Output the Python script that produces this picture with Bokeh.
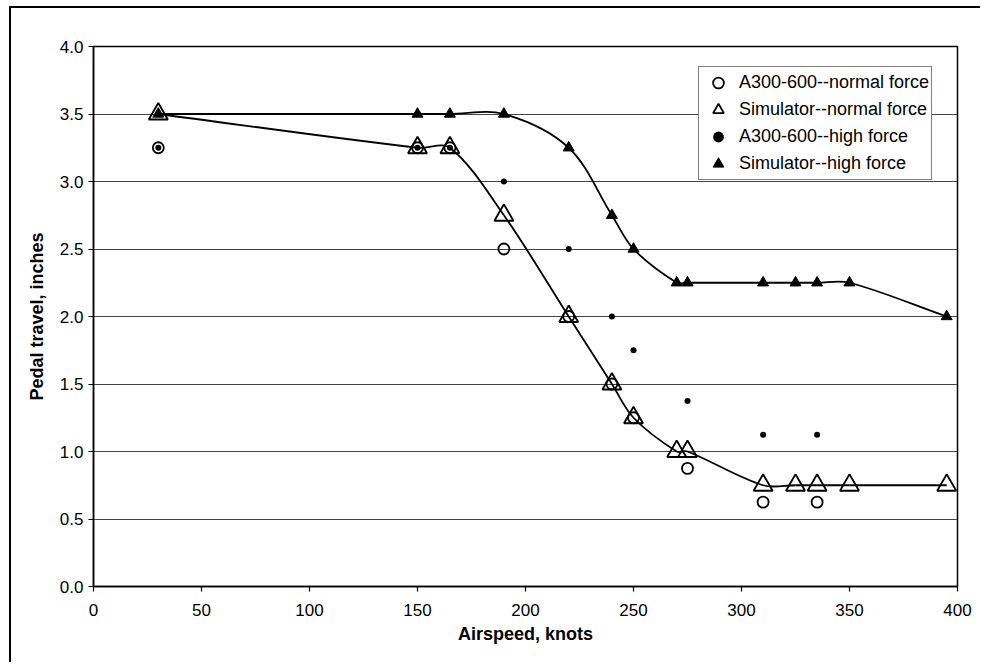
import numpy as np
from bokeh.plotting import figure
from bokeh.models import Range1d, FixedTicker, NumeralTickFormatter, Legend, LegendItem
from bokeh.embed import file_html
from bokeh.resources import INLINE

# ---- data ----
speed_a300 = [30, 150, 165, 190, 220, 240, 250, 275, 310, 335]
a300_normal = [3.25, 3.25, 3.25, 2.5, 2.0, 1.5, 1.25, 0.875, 0.625, 0.625]
a300_high = [3.25, 3.25, 3.25, 3.0, 2.5, 2.0, 1.75, 1.375, 1.125, 1.125]

speed_sim = [30, 150, 165, 190, 220, 240, 250, 270, 275, 310, 325, 335, 350, 395]
sim_normal = [3.5, 3.25, 3.25, 2.75, 2.0, 1.5, 1.25, 1.0, 1.0, 0.75, 0.75, 0.75, 0.75, 0.75]
sim_high = [3.5, 3.5, 3.5, 3.5, 3.25, 2.75, 2.5, 2.25, 2.25, 2.25, 2.25, 2.25, 2.25, 2.0]

x_ticks = [0, 50, 100, 150, 200, 250, 300, 350, 400]
y_ticks = [0.0, 0.5, 1.0, 1.5, 2.0, 2.5, 3.0, 3.5, 4.0]

FONT = "Liberation Sans"
FRAME_W, FRAME_H = 864, 540
X_MIN, X_MAX, Y_MIN, Y_MAX = 0, 400, 0, 4.0
SX = FRAME_W / (X_MAX - X_MIN)
SY = FRAME_H / (Y_MAX - Y_MIN)


def smooth_segments(xs, ys):
    """Excel-like smoothed line: cubic Bezier control points computed in screen space."""
    P = np.column_stack([np.asarray(xs, float) * SX, np.asarray(ys, float) * SY])
    n = len(P)
    out = {k: [] for k in ("x0", "y0", "x1", "y1", "cx0", "cy0", "cx1", "cy1")}
    for i in range(n - 1):
        p0 = P[i - 1] if i > 0 else P[i]
        p1 = P[i]
        p2 = P[i + 1]
        p3 = P[i + 2] if i + 2 < n else P[i + 1]
        d01 = np.linalg.norm(p1 - p0)
        d12 = np.linalg.norm(p2 - p1)
        d23 = np.linalg.norm(p3 - p2)
        c1 = p1 + (p2 - p0) * (d12 / (d01 + d12)) / 3.0
        c2 = p2 - (p3 - p1) * (d12 / (d12 + d23)) / 3.0
        out["x0"].append(p1[0] / SX); out["y0"].append(p1[1] / SY)
        out["x1"].append(p2[0] / SX); out["y1"].append(p2[1] / SY)
        out["cx0"].append(c1[0] / SX); out["cy0"].append(c1[1] / SY)
        out["cx1"].append(c2[0] / SX); out["cy1"].append(c2[1] / SY)
    return out


W, H = 971, 656
ML, MT = 82, 38
p = figure(width=W, height=H, output_backend="svg", toolbar_location=None,
           x_range=Range1d(X_MIN, X_MAX), y_range=Range1d(Y_MIN, Y_MAX),
           min_border_left=ML, min_border_top=MT,
           min_border_right=W - ML - FRAME_W, min_border_bottom=H - MT - FRAME_H)
p.styles = {"border-top": "2px solid black", "border-left": "2px solid black",
            "margin-left": "9px", "margin-top": "6px"}

p.background_fill_color = "white"
p.border_fill_color = "white"
p.outline_line_color = "black"
p.outline_line_width = 1.5

p.xgrid.visible = False
p.ygrid.ticker = FixedTicker(ticks=y_ticks)
p.ygrid.grid_line_color = "#444444"
p.ygrid.grid_line_width = 1.2

for ax in (p.xaxis[0], p.yaxis[0]):
    ax.axis_line_color = "black"
    ax.axis_line_width = 1.5
    ax.major_tick_line_color = "black"
    ax.major_tick_line_width = 1.2
    ax.major_tick_in = 0
    ax.major_tick_out = 5
    ax.minor_tick_line_color = None
    ax.major_label_text_font = FONT
    ax.major_label_text_font_size = "17px"
    ax.major_label_text_color = "black"
    ax.axis_label_text_font = FONT
    ax.axis_label_text_font_size = "18px"
    ax.axis_label_text_font_style = "bold"
    ax.axis_label_text_color = "black"

p.xaxis.ticker = FixedTicker(ticks=x_ticks)
p.yaxis.ticker = FixedTicker(ticks=y_ticks)
p.yaxis.formatter = NumeralTickFormatter(format="0.0")
p.xaxis.axis_label = "Airspeed, knots"
p.yaxis.axis_label = "Pedal travel, inches"
p.xaxis.major_label_standoff = 12
p.xaxis.axis_label_standoff = 5
p.yaxis.major_label_standoff = 5
p.yaxis.axis_label_standoff = 10

# smoothed lines
seg_n = smooth_segments(speed_sim, sim_normal)
seg_h = smooth_segments(speed_sim, sim_high)
p.bezier(line_color="black", line_width=1.8, **seg_n)
p.bezier(line_color="black", line_width=1.8, **seg_h)

# legend-only line renderers
leg_line_n = p.line(x=[], y=[], line_color="black", line_width=1.8)
leg_line_h = p.line(x=[], y=[], line_color="black", line_width=1.8)

r_a300_n = p.scatter(speed_a300, a300_normal, marker="circle", size=11,
                     fill_color=None, line_color="black", line_width=1.8)
r_sim_n = p.scatter(speed_sim, sim_normal, marker="triangle", size=19,
                    fill_color=None, line_color="black", line_width=1.8)
r_a300_h = p.scatter(speed_a300, a300_high, marker="circle", size=6,
                     fill_color="black", line_color="black", line_width=0)
r_sim_h = p.scatter(speed_sim, sim_high, marker="triangle", size=11,
                    fill_color="black", line_color="black", line_width=1)

legend = Legend(items=[
    LegendItem(label="A300-600--normal force", renderers=[r_a300_n]),
    LegendItem(label="Simulator--normal force", renderers=[leg_line_n, r_sim_n]),
    LegendItem(label="A300-600--high force", renderers=[r_a300_h]),
    LegendItem(label="Simulator--high force", renderers=[leg_line_h, r_sim_h]),
], location=(605, 406))
legend.label_text_font = FONT
legend.label_text_font_size = "18px"
legend.label_text_color = "black"
legend.label_height = 27
legend.glyph_height = 27
legend.glyph_width = 34
legend.spacing = 0
legend.padding = 2
legend.margin = 0
legend.label_standoff = 4
legend.border_line_color = "black"
legend.border_line_width = 1.5
legend.background_fill_color = "white"
legend.background_fill_alpha = 1.0
p.add_layout(legend, "center")

open("out.html", "w").write(file_html(p, INLINE))
